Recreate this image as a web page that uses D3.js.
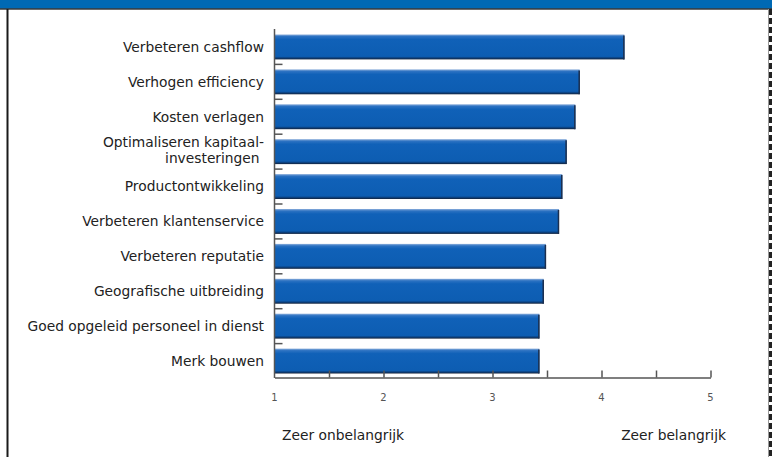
<!DOCTYPE html>
<html>
<head>
<meta charset="utf-8">
<script src="https://cdn.jsdelivr.net/npm/d3@7"></script>
<style>
  html, body { margin: 0; padding: 0; background: #fff; }
  svg { display: block; font-family: "DejaVu Sans", "Noto Sans", sans-serif; }
</style>
</head>
<body>
<svg id="chart" width="772" height="457"></svg>
<script>
// Motieven en hun gemiddelde belangrijkheid (schaal 1-5)
const categories = [
  "Verbeteren cashflow",
  "Verhogen efficiency",
  "Kosten verlagen",
  "Optimaliseren kapitaal-|investeringen ",
  "Productontwikkeling",
  "Verbeteren klantenservice",
  "Verbeteren reputatie",
  "Geografische uitbreiding",
  "Goed opgeleid personeel in dienst",
  "Merk bouwen"
];
const values = [4.21, 3.80, 3.76, 3.68, 3.64, 3.61, 3.49, 3.47, 3.43, 3.43];
const tickValues = [1, 2, 3, 4, 5];
const minorTicks = [1.5, 2, 2.5, 3, 3.5, 4, 4.5, 5];
const scaleEnds = ["Zeer onbelangrijk", "Zeer belangrijk"];

const svg = d3.select("#chart");
const W = 772, H = 457;

// Header band and frame
svg.append("rect").attr("x", 0).attr("y", 0).attr("width", W).attr("height", 9).attr("fill", "#0069b4");
svg.append("line").attr("x1", 0).attr("x2", W).attr("y1", 9).attr("y2", 9)
  .attr("stroke", "#3a3a3a").attr("stroke-width", 1.5);
svg.append("line").attr("x1", 7.5).attr("x2", 7.5).attr("y1", 9).attr("y2", H)
  .attr("stroke", "#1a1a1a").attr("stroke-width", 2);
svg.append("line").attr("x1", 768.5).attr("x2", 768.5).attr("y1", 9).attr("y2", H)
  .attr("stroke", "#9a9a9a").attr("stroke-width", 1);
svg.append("line").attr("x1", 770.5).attr("x2", 770.5).attr("y1", 9).attr("y2", H)
  .attr("stroke", "#222").attr("stroke-width", 3).attr("stroke-dasharray", "6,3");

const x = d3.scaleLinear().domain([1, 5]).range([274.5, 710.5]);
const y = d3.scaleBand().domain(categories).range([29, 379]).paddingInner(0.286).paddingOuter(0.157);

// Bar shading
const defs = svg.append("defs");
const grad = defs.append("linearGradient").attr("id", "barGrad")
  .attr("x1", 0).attr("x2", 0).attr("y1", 0).attr("y2", 1);
grad.append("stop").attr("offset", "0%").attr("stop-color", "#8fb0dc");
grad.append("stop").attr("offset", "8%").attr("stop-color", "#2c72c2");
grad.append("stop").attr("offset", "20%").attr("stop-color", "#1061b8");
grad.append("stop").attr("offset", "88%").attr("stop-color", "#0d5db2");
grad.append("stop").attr("offset", "94%").attr("stop-color", "#0b3f7c");
grad.append("stop").attr("offset", "100%").attr("stop-color", "#15233a");

const bars = svg.append("g");
bars.selectAll("rect.bar").data(values).join("rect")
  .attr("class", "bar")
  .attr("x", x(1))
  .attr("y", (d, i) => y(categories[i]))
  .attr("width", d => x(d) - x(1))
  .attr("height", y.bandwidth())
  .attr("fill", "url(#barGrad)");
// dark right edge
bars.selectAll("line.edge").data(values).join("line")
  .attr("class", "edge")
  .attr("x1", d => x(d) - 0.5).attr("x2", d => x(d) - 0.5)
  .attr("y1", (d, i) => y(categories[i]) + 1)
  .attr("y2", (d, i) => y(categories[i]) + y.bandwidth())
  .attr("stroke", "#1b2f4f").attr("stroke-width", 1.5);

// Category axis: vertical line with short inward ticks between bars
svg.append("line").attr("x1", x(1)).attr("x2", x(1)).attr("y1", 29).attr("y2", 378)
  .attr("stroke", "#555").attr("stroke-width", 1.5);
const step = y.step();
svg.append("g").selectAll("line").data(categories.slice(1)).join("line")
  .attr("x1", x(1)).attr("x2", x(1) + 8)
  .attr("y1", d => y(d) - (step - y.bandwidth()) / 2)
  .attr("y2", d => y(d) - (step - y.bandwidth()) / 2)
  .attr("stroke", "#555").attr("stroke-width", 1.5);

// Category labels
const labels = svg.append("g").attr("font-size", 13.8).attr("fill", "#222").attr("text-anchor", "end");
categories.forEach(c => {
  const lines = c.split("|");
  const cy = y(c) + y.bandwidth() / 2;
  const lh = 16;
  lines.forEach((t, k) => {
    labels.append("text")
      .attr("x", 264)
      .attr("y", cy + (k - (lines.length - 1) / 2) * lh - (lines.length > 1 ? 1 : 0))
      .attr("dy", "0.35em")
      .attr("xml:space", "preserve")
      .text(t);
  });
});

// Value axis
const axisY = 377.5;
const xAxis = d3.axisBottom(x).tickValues(minorTicks).tickSize(0).tickFormat("");
const ag = svg.append("g").attr("transform", `translate(0,${axisY})`).call(xAxis);
ag.select(".domain").attr("stroke", "#555").attr("stroke-width", 1.5);
ag.selectAll(".tick").append("line").attr("y1", 0).attr("y2", -7)
  .attr("stroke", "#555").attr("stroke-width", 1.5);

svg.append("g").selectAll("text").data(tickValues).join("text")
  .attr("x", d => x(d)).attr("y", 397).attr("dy", "0.35em")
  .attr("text-anchor", "middle").attr("font-size", 10).attr("fill", "#555")
  .text(d => d);

svg.append("text").attr("x", 282).attr("y", 440).attr("font-size", 13.8).attr("fill", "#222")
  .text(scaleEnds[0]);
svg.append("text").attr("x", 726).attr("y", 440).attr("font-size", 13.8).attr("fill", "#222")
  .attr("text-anchor", "end").text(scaleEnds[1]);
</script>
</body>
</html>
